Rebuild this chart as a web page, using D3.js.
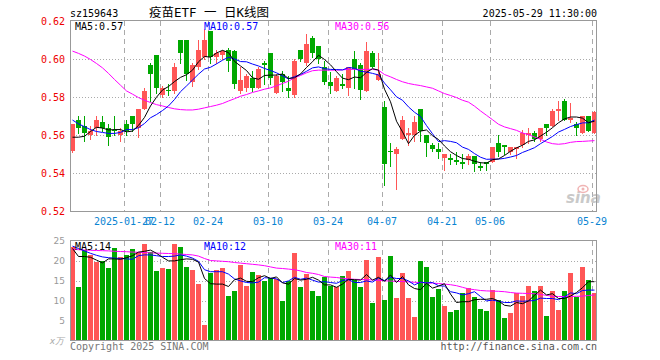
<!DOCTYPE html>
<html>
<head>
<meta charset="utf-8">
<script src="https://cdn.jsdelivr.net/npm/d3@7"></script>
<style>
  body { margin: 0; background: #fff; }
  svg text { font-family: "DejaVu Sans Mono", "Noto Sans CJK SC", monospace; }
</style>
</head>
<body>
<script>
// trading days shown (2025)
const dates = [
  "01-14","01-15","01-16","01-17","01-20","01-21","01-22","01-23","01-24","01-27",
  "02-05","02-06","02-07","02-10","02-11","02-12","02-13","02-14","02-17","02-18",
  "02-19","02-20","02-21","02-24","02-25","02-26","02-27","02-28",
  "03-03","03-04","03-05","03-06","03-07","03-10","03-11","03-12","03-13","03-14",
  "03-17","03-18","03-19","03-20","03-21","03-24","03-25","03-26","03-27","03-28","03-31",
  "04-01","04-02","04-03","04-07","04-08","04-09","04-10","04-11","04-14","04-15",
  "04-16","04-17","04-18","04-21","04-22","04-23","04-24","04-25","04-28","04-29","04-30",
  "05-06","05-07","05-08","05-09","05-12","05-13","05-14","05-15","05-16","05-19",
  "05-20","05-21","05-22","05-23","05-26","05-27","05-28","05-29"
];

const open = [
  .552,.568,.565,.560,.564,.567,.564,.563,.560,.566,
  .570,.564,.574,.597,.602,.581,.584,.583,.610,.610,
  .588,.596,.601,.615,.601,.602,.605,.604,
  .583,.585,.590,.585,.598,.603,.582,.592,.585,.581,
  .605,.598,.611,.607,.596,.588,.583,.587,.585,.600,.597,
  .583,.603,.589,.575,.552,.550,.558,.560,.560,.574,
  .560,.555,.553,.548,.548,.547,.546,.547,.549,.544,.546,
  .546,.556,.555,.551,.553,.555,.560,.561,.558,.566,
  .565,.573,.578,.568,.566,.561,.570,.561
];
const high = [
  .566,.570,.570,.565,.570,.570,.566,.570,.564,.568,
  .570,.574,.585,.598,.602,.586,.587,.598,.610,.610,
  .598,.610,.616,.615,.605,.605,.606,.605,
  .596,.592,.594,.596,.599,.603,.592,.594,.591,.600,
  .605,.613,.612,.607,.599,.593,.591,.592,.596,.604,.598,
  .609,.604,.603,.578,.556,.554,.570,.564,.570,.574,
  .560,.556,.556,.550,.550,.551,.550,.550,.549,.546,.546,
  .554,.560,.554,.554,.554,.563,.564,.562,.564,.566,
  .574,.578,.579,.577,.567,.570,.570,.573
];
const low = [
  .551,.561,.557,.558,.560,.562,.555,.560,.557,.560,
  .562,.559,.574,.578,.582,.580,.581,.582,.598,.589,
  .586,.595,.600,.598,.598,.600,.594,.585,
  .582,.583,.583,.585,.587,.587,.582,.583,.580,.580,
  .599,.597,.601,.598,.587,.582,.583,.585,.581,.585,.579,
  .583,.596,.589,.534,.544,.532,.558,.555,.557,.557,
  .549,.552,.548,.542,.545,.545,.543,.545,.541,.542,.542,
  .546,.549,.550,.550,.548,.554,.556,.557,.557,.560,
  .565,.568,.568,.567,.560,.561,.562,.561
];
const close = [
  .566,.564,.561,.562,.568,.564,.559,.562,.562,.562,
  .566,.574,.583,.592,.585,.585,.583,.596,.603,.592,
  .597,.605,.610,.601,.603,.604,.599,.587,
  .589,.591,.585,.595,.597,.590,.591,.588,.583,.599,
  .600,.608,.603,.600,.588,.586,.590,.586,.596,.595,.584,
  .604,.596,.592,.545,.551,.553,.568,.561,.567,.562,
  .556,.553,.551,.550,.547,.546,.545,.549,.545,.543,.545,
  .554,.551,.554,.554,.554,.561,.561,.558,.564,.564,
  .573,.574,.568,.569,.564,.570,.562,.572
];
// volume, 万
const volume = [
  23.5,13.5,22.7,21.4,19.6,20.0,18.1,23.1,20.8,21.4,
  22.8,22.2,24.2,22.2,17.4,18.1,17.8,24.2,23.3,18.4,
  17.7,14.2,3.9,16.8,17.7,18.1,11.2,12.4,
  18.8,13.7,17.2,16.4,14.8,15.6,15.3,9.8,14.8,22.0,
  13.5,16.6,12.3,11.2,15.8,13.7,13.5,16.2,17.4,15.2,13.3,
  20.2,9.5,21.0,10.2,21.2,10.6,16.8,10.6,5.8,19.8,
  18.3,11.0,13.0,8.7,7.2,7.7,11.8,13.2,11.0,7.9,7.5,
  12.7,10.2,5.7,7.0,12.0,11.2,13.7,12.4,13.7,6.2,
  12.4,7.7,12.4,16.9,10.8,18.4,15.2,12.0
];

// moving averages
const ma5 = [
  .5590,.5590,.5595,.5620,.5642,.5638,.5628,.5630,.5630,.5618,
  .5622,.5652,.5694,.5754,.5800,.5838,.5856,.5882,.5904,.5918,
  .5942,.5986,.6014,.6010,.6032,.6046,.6034,.5988,.5964,.5940,
  .5902,.5894,.5914,.5916,.5916,.5922,.5898,.5902,.5922,.5956,
  .5986,.6020,.5998,.5970,.5934,.5900,.5892,.5906,.5902,.5930,
  .5950,.5942,.5842,.5776,.5674,.5618,.5556,.5600,.5622,.5628,
  .5598,.5578,.5544,.5514,.5494,.5478,.5474,.5464,.5456,.5454,
  .5472,.5476,.5494,.5516,.5534,.5548,.5568,.5576,.5596,.5616,
  .5640,.5666,.5686,.5696,.5696,.5690,.5666,.5674
];
const ma10 = [
  .5680,.5660,.5645,.5630,.5620,.5615,.5610,.5610,.5615,.5630,
  .5630,.5640,.5662,.5692,.5709,.5730,.5754,.5788,.5829,.5859,
  .5890,.5921,.5948,.5957,.5975,.5994,.6010,.6001,.5987,.5986,
  .5974,.5964,.5951,.5940,.5928,.5912,.5896,.5908,.5919,.5936,
  .5954,.5959,.5950,.5946,.5945,.5943,.5956,.5952,.5936,.5932,
  .5925,.5917,.5874,.5839,.5802,.5784,.5749,.5721,.5699,.5651,
  .5608,.5567,.5572,.5568,.5561,.5538,.5526,.5504,.5485,.5474,
  .5475,.5475,.5479,.5486,.5494,.5510,.5522,.5535,.5556,.5575,
  .5594,.5617,.5631,.5646,.5656,.5665,.5666,.5680
];
const ma30 = [
  .6042,.6030,.6016,.5998,.5977,.5954,.5925,.5893,.5863,.5833,
  .5816,.5798,.5784,.5772,.5761,.5754,.5746,.5739,.5735,.5733,
  .5733,.5737,.5744,.5751,.5758,.5767,.5780,.5792,.5805,.5814,
  .5825,.5833,.5842,.5849,.5860,.5872,.5884,.5902,.5914,.5928,
  .5939,.5942,.5942,.5942,.5942,.5944,.5946,.5946,.5946,.5946,
  .5946,.5942,.5919,.5907,.5893,.5881,.5872,.5866,.5861,.5854,
  .5847,.5833,.5819,.5809,.5798,.5784,.5774,.5753,.5728,.5705,
  .5682,.5658,.5644,.5635,.5626,.5612,.5604,.5591,.5579,.5565,
  .5556,.5553,.5556,.5563,.5567,.5568,.5570,.5572
];
const volMa5 = [
  23.0,21.0,21.0,20.8,20.1,19.4,20.4,20.4,20.3,20.7,
  21.2,22.1,22.3,22.6,21.8,20.8,19.9,19.9,20.2,20.4,
  20.3,19.6,15.5,14.2,14.1,14.1,13.5,15.2,15.6,14.8,
  14.7,15.7,16.2,15.5,15.9,14.4,14.1,15.5,15.1,15.3,
  15.8,15.1,13.9,13.9,13.3,14.1,15.3,15.2,15.1,16.5,
  15.1,15.8,14.8,16.4,14.5,16.0,13.9,13.0,12.7,14.3,
  13.1,13.6,14.2,11.6,9.5,9.7,9.7,10.2,10.3,10.3,
  10.5,9.9,8.8,8.6,9.5,9.2,9.9,11.3,12.6,11.4,
  11.7,10.5,10.5,11.1,12.0,13.2,14.7,14.7
];
const volMa10 = [
  23.6,23.0,22.4,21.8,21.3,20.9,20.7,20.6,20.5,20.4,
  20.3,21.2,21.4,21.4,21.2,21.0,21.0,21.1,21.4,21.1,
  20.6,19.8,17.7,17.2,17.2,17.2,16.6,15.4,14.9,14.5,
  14.4,14.6,15.7,15.6,15.4,14.5,14.9,15.8,15.3,15.6,
  15.1,14.6,14.7,14.5,14.3,15.0,15.2,14.5,14.5,14.9,
  14.6,15.6,15.0,15.8,15.5,15.5,14.9,13.9,14.6,14.4,
  14.5,13.7,13.6,12.2,11.9,11.4,11.7,12.2,11.0,9.9,
  10.1,9.8,9.5,9.5,9.9,9.8,9.9,10.0,10.6,10.5,
  10.5,10.2,10.9,11.9,11.7,12.5,12.6,12.6
];
const volMa30 = [
  22.8,22.7,22.6,22.55,22.5,22.45,22.4,22.3,22.25,22.2,
  22.1,22.05,22.0,21.9,21.85,21.8,21.75,21.7,21.6,21.5,
  21.4,21.1,20.5,20.0,19.9,19.8,19.7,19.5,19.35,19.2,
  19.05,18.9,18.7,18.4,18.1,18.0,17.85,17.7,17.4,17.0,
  16.8,16.5,16.0,15.85,15.75,15.55,15.4,15.3,15.25,15.2,
  15.15,15.05,14.95,14.85,14.8,14.75,14.65,14.55,14.5,14.4,
  14.35,14.25,14.1,13.95,13.7,13.3,12.9,12.7,12.5,12.4,
  12.35,12.3,12.2,12.0,11.85,11.8,11.75,11.7,11.5,11.3,
  11.05,11.0,11.0,11.0,11.05,11.1,11.25,11.4
];

const tickDates = ["01-27","02-12","02-24","03-10","03-24","04-07","04-21","05-06","05-29"];
const tickLabels = ["2025-01-27","02-12","02-24","03-10","03-24","04-07","04-21","05-06","05-29"];
const priceTicks = [0.52, 0.54, 0.56, 0.58, 0.60, 0.62];
const volTicks = [5, 10, 15, 20, 25];

const RED = "#ff5656", GREEN = "#00a800";
const left = 70, right = 597;

const svg = d3.select("body").append("svg")
  .attr("width", 660).attr("height", 360);

const x = d3.scaleBand().domain(dates).range([left, right])
  .paddingInner(1 / 6).paddingOuter(0);
const y = d3.scaleLinear().domain([0.52, 0.62]).range([211.5, 21]);
const yv = d3.scaleLinear().domain([0, 25]).range([340.5, 240.5]);
const cx = d => x(d) + x.bandwidth() / 2;
const crisp = v => Math.round(v) + 0.5;

// clip paths
const defs = svg.append("defs");
defs.append("clipPath").attr("id", "cp").append("rect")
  .attr("x", left).attr("y", 21).attr("width", 527).attr("height", 191);
defs.append("clipPath").attr("id", "cv").append("rect")
  .attr("x", left).attr("y", 241).attr("width", 527).attr("height", 100);

// ---------- header ----------
svg.append("text").attr("x", 70).attr("y", 16.5).style("font-size", "10px").text("sz159643");
svg.append("text").attr("x", 209).attr("y", 16.5).attr("text-anchor", "middle")
  .style("font-size", "12.5px").text("疫苗ETF 一 日K线图");
svg.append("text").attr("x", 597).attr("y", 16.5).attr("text-anchor", "end")
  .style("font-size", "10px").text("2025-05-29 11:30:00");

// ---------- grids ----------
function grid(g, yTop, yBot, hVals, scale) {
  g.selectAll(".h").data(hVals).join("line")
    .attr("x1", left).attr("x2", right)
    .attr("y1", d => crisp(scale(d))).attr("y2", d => crisp(scale(d)))
    .attr("stroke", "#aaa").attr("stroke-dasharray", "1,2");
  g.selectAll(".v").data(tickDates).join("line")
    .attr("x1", d => x(d) + 0.5).attr("x2", d => x(d) + 0.5)
    .attr("y1", yTop).attr("y2", yBot)
    .attr("stroke", "#aaa").attr("stroke-dasharray", "5,4");
}
grid(svg.append("g"), 21, 211, [0.54, 0.56, 0.58, 0.60], y);
grid(svg.append("g"), 241, 340, [5, 10, 15, 20], yv);

// watermark
const wm = svg.append("g");
wm.append("text").attr("x", 566).attr("y", 203)
  .style("font-family", "DejaVu Sans").style("font-style", "italic").style("font-weight", "bold")
  .style("font-size", "15px").attr("fill", "#c9c9c9").text("sina");
wm.append("ellipse").attr("cx", 583).attr("cy", 189).attr("rx", 5).attr("ry", 3.5)
  .attr("fill", "none").attr("stroke", "#f0b4b4").attr("stroke-width", 1.5);
wm.append("circle").attr("cx", 583).attr("cy", 189).attr("r", 1.5).attr("fill", "#f0b4b4");

// ---------- candles ----------
const candles = svg.append("g").attr("clip-path", "url(#cp)")
  .selectAll("g").data(dates).join("g");
candles.append("line")
  .attr("x1", d => cx(d)).attr("x2", d => cx(d))
  .attr("y1", (d, i) => Math.round(y(high[i]))).attr("y2", (d, i) => Math.round(y(low[i])) + 1)
  .attr("stroke", (d, i) => close[i] >= open[i] ? RED : GREEN);
candles.append("rect")
  .attr("x", d => x(d)).attr("width", x.bandwidth())
  .attr("y", (d, i) => Math.round(y(Math.max(open[i], close[i]))))
  .attr("height", (d, i) => Math.max(1, Math.round(y(Math.min(open[i], close[i]))) - Math.round(y(Math.max(open[i], close[i])))))
  .attr("fill", (d, i) => close[i] >= open[i] ? RED : GREEN);

// ---------- volume bars ----------
svg.append("g").attr("clip-path", "url(#cv)")
  .selectAll("rect").data(dates).join("rect")
  .attr("x", d => x(d)).attr("width", x.bandwidth())
  .attr("y", (d, i) => Math.round(yv(volume[i])))
  .attr("height", (d, i) => Math.round(yv(0)) - Math.round(yv(volume[i])))
  .attr("fill", (d, i) => close[i] >= open[i] ? RED : GREEN);

// ---------- moving averages ----------
function maLine(vals, scale, color, clip) {
  const line = d3.line().x((d, i) => cx(dates[i])).y(d => scale(d));
  svg.append("path").attr("clip-path", clip).datum(vals)
    .attr("d", line).attr("fill", "none").attr("stroke", color).attr("stroke-width", 1);
}
maLine(ma30, y, "#ff00ff", "url(#cp)");
maLine(ma10, y, "#0000ff", "url(#cp)");
maLine(ma5, y, "#000000", "url(#cp)");
maLine(volMa30, yv, "#ff00ff", "url(#cv)");
maLine(volMa10, yv, "#0000ff", "url(#cv)");
maLine(volMa5, yv, "#000000", "url(#cv)");

// ---------- frames ----------
svg.append("rect").attr("x", 70.5).attr("y", 20.5).attr("width", 526).attr("height", 191)
  .attr("fill", "none").attr("stroke", "#999");
svg.append("rect").attr("x", 70.5).attr("y", 240.5).attr("width", 526).attr("height", 100)
  .attr("fill", "none").attr("stroke", "#999");

// ---------- axes ----------
svg.append("g").attr("transform", `translate(${left},0)`)
  .call(d3.axisLeft(y).tickValues(priceTicks).tickFormat(d3.format(".2f")).tickSize(0).tickPadding(5))
  .call(g => g.select(".domain").remove())
  .call(g => g.selectAll("text").attr("fill", "#ee0000")
    .style("font-family", "DejaVu Sans Mono").style("font-size", "10px"));

svg.append("g").attr("transform", `translate(${left},0)`)
  .call(d3.axisLeft(yv).tickValues(volTicks).tickSize(0).tickPadding(5))
  .call(g => g.select(".domain").remove())
  .call(g => g.selectAll("text").attr("fill", "#999")
    .style("font-family", "DejaVu Sans").style("font-size", "9px"));
svg.append("text").attr("x", 64).attr("y", 344).attr("text-anchor", "end")
  .style("font-family", "DejaVu Sans").style("font-style", "italic")
  .style("font-size", "9px").attr("fill", "#aaa").text("x万");

svg.append("g").selectAll("text").data(tickDates).join("text")
  .attr("x", d => x(d)).attr("y", 225).attr("text-anchor", "middle")
  .attr("fill", "#0a84d2").style("font-size", "10px")
  .text((d, i) => tickLabels[i]);

// ---------- legends ----------
const fmt2 = d3.format(".2f");
const legends = [
  { x: 75, y: 30, c: "#000", t: "MA5:" + fmt2(ma5[ma5.length - 1]) },
  { x: 204, y: 30, c: "#0000ff", t: "MA10:" + fmt2(ma10[ma10.length - 1]) },
  { x: 335, y: 30, c: "#ff00ff", t: "MA30:" + fmt2(ma30[ma30.length - 1]) },
  { x: 75, y: 249.5, c: "#000", t: "MA5:" + Math.floor(volMa5[volMa5.length - 1]) },
  { x: 204, y: 249.5, c: "#0000ff", t: "MA10:" + Math.floor(volMa10[volMa10.length - 1]) },
  { x: 335, y: 249.5, c: "#ff00ff", t: "MA30:" + Math.floor(volMa30[volMa30.length - 1]) }
];
svg.append("g").selectAll("text").data(legends).join("text")
  .attr("x", d => d.x).attr("y", d => d.y).attr("fill", d => d.c)
  .style("font-size", "10px").text(d => d.t);

// ---------- footer ----------
svg.append("text").attr("x", 70).attr("y", 349.5).attr("fill", "#777")
  .style("font-size", "10px").text("Copyright 2025 SINA.COM");
svg.append("text").attr("x", 597).attr("y", 349.5).attr("text-anchor", "end").attr("fill", "#555")
  .style("font-size", "10px").text("http://finance.sina.com.cn");
</script>
</body>
</html>
